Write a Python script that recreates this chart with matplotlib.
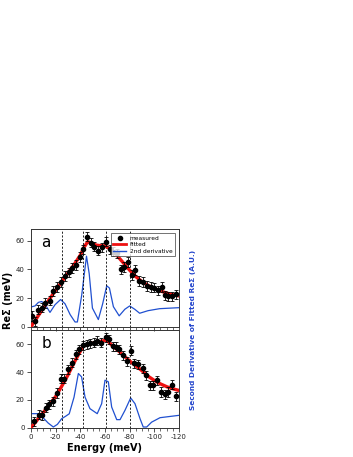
import matplotlib
matplotlib.use("Agg")
import matplotlib.pyplot as plt
from matplotlib.ticker import MultipleLocator
from matplotlib.lines import Line2D

# Panel a data
a_E = [-0.5, -3.2, -5.9, -8.6, -11.5, -15.4, -18.1, -21.4, -24.0, -27.6, -30.8, -33.5, -36.5, -39.7,
       -41.9, -45.7, -48.4, -51.4, -54.6, -57.3, -60.8, -64.0, -66.8, -69.5, -72.7, -75.4, -78.9,
       -81.6, -84.3, -87.8, -91.0, -93.8, -97.0, -99.7, -102.7, -106.0, -108.6, -111.4, -114.0, -117.6]
a_val = [7.4, 3.7, 11.9, 13.3, 16.5, 18.2, 25.0, 27.8, 31.3, 35.3, 37.9, 41.1, 43.0, 48.8,
         54.0, 62.9, 58.7, 55.9, 53.1, 55.4, 59.4, 54.0, 52.4, 51.2, 40.0, 41.8, 45.3,
         36.0, 39.5, 32.0, 31.1, 28.5, 27.8, 27.4, 25.5, 27.8, 22.0, 21.3, 21.3, 22.7]
a_fit_E = [0, -5, -10, -15, -20, -25, -30, -35, -40, -43, -46, -49, -53, -57, -60, -63, -66, -70,
           -75, -80, -85, -90, -95, -100, -105, -110, -115, -120]
a_fit = [0, 6.5, 13, 19.3, 25.5, 31.5, 37.5, 43.5, 50, 55.5, 59.4, 58.5, 57, 56.6, 56.5, 55, 53, 49.5,
         44.5, 39.5, 35, 31.5, 28.8, 26.8, 25, 23.5, 22.4, 21.5]
a_d2_E = [0, -3.2, -6, -8.6, -11, -15.4, -19.5, -24, -27.6, -31.7, -35.7, -37.6, -41.1, -45, -47.2,
          -49.8, -54.6, -58.1, -61.4, -63.6, -66.8, -71.5, -76.1, -80, -84.1, -88.1, -94.9, -104.3, -120]
a_d2 = [13.8, 14.5, 17, 17.6, 16.2, 10, 15.4, 19, 16, 8.5, 3.3, 3.3, 22, 49.3, 37,
        13, 5, 16, 28.6, 27, 14, 7.6, 12.2, 14.5, 12.2, 9.4, 11.2, 12.6, 13.3]

# Panel b data
b_E = [-2.7, -6.5, -9.2, -12.2, -14.9, -18.1, -21.4, -24.3, -27.0, -30.3, -33.0, -36.5, -39.2, -42.4,
       -45.1, -47.8, -51.0, -53.7, -56.6, -60.5, -63.2, -66.2, -68.9, -71.6, -74.9, -78.1, -81.1,
       -83.8, -87.0, -90.5, -93.2, -96.5, -99.2, -102.4, -105.4, -108.6, -111.3, -114.0, -117.6]
b_val = [4.5, 9.4, 9.0, 14.4, 16.8, 19.0, 25.0, 35.4, 35.4, 42.0, 46.7, 52.9, 56.5, 59.4,
         59.9, 60.6, 61.1, 62.5, 61.1, 65.0, 63.5, 58.7, 58.2, 56.3, 52.2, 47.9, 55.3,
         46.2, 45.7, 42.6, 37.8, 30.5, 30.5, 34.2, 25.7, 24.0, 25.7, 31.0, 22.6]
b_fit_E = [0, -5, -10, -15, -20, -25, -30, -35, -40, -42, -45, -50, -55, -60, -62, -65, -70, -75, -80,
           -85, -90, -95, -100, -105, -110, -115, -120]
b_fit = [0, 5.5, 11, 16.5, 22.5, 30, 38, 47, 55, 58.5, 59.8, 60.8, 61.8, 62.8, 62.5, 59.8, 56, 52, 48,
         44.5, 41, 37, 34, 31.5, 29.5, 28, 26.8]
b_d2_E = [0, -6, -9.2, -14, -18.1, -21.4, -24.9, -28, -31, -34.9, -38.4, -41, -43.8, -47.8, -53.7,
          -57.3, -60, -62.7, -65.4, -69.5, -72.2, -76.2, -80.8, -84.3, -88.4, -91, -93.8, -97.8, -104.6, -120]
b_d2 = [10.1, 10.1, 7.7, 3.3, 0.5, 2.4, 6.5, 8.2, 10, 22, 39, 36.6, 22, 13.7, 10.1,
        17.3, 34.2, 33, 14.9, 5.8, 5.8, 12.5, 21.4, 17.3, 6.5, 0.5, 0.5, 4, 7.2, 8.9]

dashed_E = [-25, -42, -61, -80]
x_ticks = [0, -20, -40, -60, -80, -100, -120]
x_ticklabels = ["0", "-20", "-40", "-60", "-80", "-100", "-120"]

W, H = 353, 457
fig = plt.figure(figsize=(W / 100, H / 100), dpi=100)

ax_a = fig.add_axes([31 / W, 1 - 326.7 / H, 148 / W, 97.7 / H])
ax_b = fig.add_axes([31 / W, 1 - 427.7 / H, 148 / W, 97.7 / H])

spine_col = "#333333"


def style(ax, ymax, show_x):
    ax.set_xlim(0, -120)
    ax.set_ylim(0, ymax)
    ax.xaxis.set_major_locator(MultipleLocator(20))
    ax.xaxis.set_minor_locator(MultipleLocator(5))
    ax.yaxis.set_major_locator(MultipleLocator(20))
    ax.tick_params(axis="both", which="major", direction="out", length=3, width=0.6,
                   labelsize=5, colors=spine_col, labelcolor="#222222", pad=1.5)
    ax.tick_params(axis="x", which="minor", direction="out", length=2, width=0.5, colors=spine_col)
    for s in ax.spines.values():
        s.set_linewidth(0.7)
        s.set_color(spine_col)
    if show_x:
        ax.set_xticks(x_ticks)
        ax.set_xticklabels(x_ticklabels)
    else:
        ax.set_xticklabels([])
    for e in dashed_E:
        ax.axvline(e, color="black", ls=(0, (2.5, 2)), lw=0.6, zorder=1)


def draw(ax, E, val, fE, fit, dE, d2, ymax):
    tw = ax.twinx()
    tw.set_ylim(0, ymax)
    tw.set_yticks([])
    for s in tw.spines.values():
        s.set_visible(False)
    tw.plot(dE, d2, color="#2050d0", lw=0.9, zorder=2)
    ax.set_zorder(tw.get_zorder() + 1)
    ax.patch.set_visible(False)
    ax.plot(fE, fit, color="#ee1111", lw=2.4, zorder=3, solid_capstyle="round")
    ax.errorbar(E, val, yerr=3.3, fmt="o", color="black", ms=3.0, elinewidth=0.6,
                capsize=1.3, capthick=0.6, zorder=4)


style(ax_a, 68.3, False)
style(ax_b, 70.3, True)
draw(ax_a, a_E, a_val, a_fit_E, a_fit, a_d2_E, a_d2, 68.3)
draw(ax_b, b_E, b_val, b_fit_E, b_fit, b_d2_E, b_d2, 70.3)

ax_a.text(0.07, 0.86, "a", transform=ax_a.transAxes, fontsize=11, va="center", ha="left")
ax_b.text(0.07, 0.86, "b", transform=ax_b.transAxes, fontsize=11, va="center", ha="left")

handles = [Line2D([], [], marker="o", ls="none", color="black", ms=3),
           Line2D([], [], color="#ee1111", lw=2),
           Line2D([], [], color="#2050d0", lw=1)]
leg = ax_a.legend(handles, ["measured", "Fitted", "2nd derivative"], loc="upper right",
                  fontsize=4.2, frameon=True, fancybox=False, borderpad=0.4,
                  handlelength=2.2, handletextpad=0.6, labelspacing=0.25,
                  bbox_to_anchor=(0.99, 0.985))
leg.get_frame().set_edgecolor("#333333")
leg.get_frame().set_linewidth(0.6)
leg.set_zorder(10)

ax_b.set_xlabel("Energy (meV)", fontsize=7, fontweight="bold", labelpad=2)
fig.text(8 / W, 1 - 300 / H, "Re\u03a3 (meV)", rotation=90, fontsize=7, fontweight="bold",
         ha="center", va="center")
fig.text(193 / W, 1 - 330 / H, "Second Derivative of Fitted Re\u03a3 (A.U.)", rotation=90,
         fontsize=5.3, fontweight="bold", color="#2244cc", ha="center", va="center")

fig.savefig("out.png", dpi=100)
